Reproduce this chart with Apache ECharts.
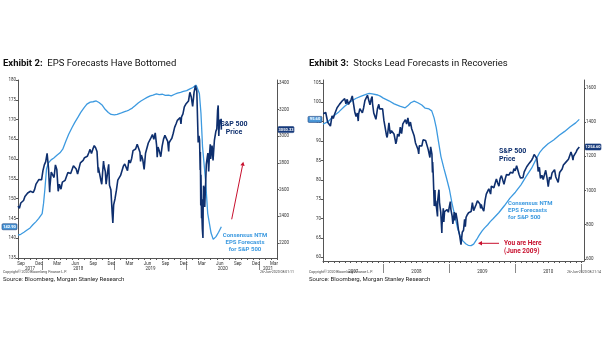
<!DOCTYPE html>
<html><head><meta charset="utf-8">
<script src="https://cdn.jsdelivr.net/npm/echarts@6/dist/echarts.min.js"></script>
<style>html,body{margin:0;padding:0;background:#fff}#c{width:605px;height:341px}</style>
</head><body><div id="c"></div>
<script>
// ---------- DATA ----------
const monthNames = ['Jan','Feb','Mar','Apr','May','Jun','Jul','Aug','Sep','Oct','Nov','Dec'];
const quarterMonths = ['Mar','Jun','Sep','Dec'];
const yearsA = ['2017','2018','2019','2020','2021'];
const yearsB = ['2007','2008','2009','2010'];
const epsTicksA = [135,140,145,150,155,160,165,170,175,180];
const spxTicksA = [2200,2400,2600,2800,3000,3200,3400];
const epsTicksB = [60,65,70,75,80,85,90,95,100,105];
const spxTicksB = [600,800,1000,1200,1400,1600];

// Exhibit 2: consensus NTM EPS (left axis)
const epsA = [['2017-09-01',140.8],['2017-09-15',141.0],['2017-10-01',141.5],['2017-10-15',142.0],['2017-11-01',142.6],['2017-11-15',143.4],['2017-12-01',144.2],['2017-12-15',145.0],['2018-01-01',146.2],['2018-01-08',148.8],['2018-01-15',152.5],['2018-01-23',157.5],['2018-02-01',159.0],['2018-02-15',159.8],['2018-03-01',160.3],['2018-03-15',160.9],['2018-04-01',161.6],['2018-04-15',162.5],['2018-05-01',164.6],['2018-05-15',166.3],['2018-06-01',168.0],['2018-06-15',169.3],['2018-07-01',170.6],['2018-07-15',171.8],['2018-08-01',173.0],['2018-08-15',173.9],['2018-09-01',174.4],['2018-09-15',174.5],['2018-10-01',174.7],['2018-10-15',174.3],['2018-11-01',173.6],['2018-11-15',172.6],['2018-12-01',171.8],['2018-12-15',171.3],['2019-01-01',171.2],['2019-01-15',171.3],['2019-02-01',171.6],['2019-02-15',171.9],['2019-03-01',172.1],['2019-03-15',172.4],['2019-04-01',172.9],['2019-04-15',173.5],['2019-05-01',174.2],['2019-05-15',174.7],['2019-06-01',175.2],['2019-06-15',175.6],['2019-07-01',176.0],['2019-07-15',176.2],['2019-08-01',176.5],['2019-08-15',176.3],['2019-09-01',176.4],['2019-09-15',176.1],['2019-10-01',176.2],['2019-10-15',176.0],['2019-11-01',176.4],['2019-11-15',176.7],['2019-12-01',176.9],['2019-12-15',177.1],['2020-01-01',177.3],['2020-01-15',177.7],['2020-02-01',178.1],['2020-02-18',178.7],['2020-03-05',176.6],['2020-03-13',171.6],['2020-03-21',163.1],['2020-04-05',154.7],['2020-04-16',146.3],['2020-05-03',141.3],['2020-05-14',139.7],['2020-05-28',140.4],['2020-06-10',141.5],['2020-06-24',142.9]];

// Exhibit 2: S&P 500 price (right axis)
const spxA = [['2017-09-01',2477],['2017-09-08',2461],['2017-09-15',2500],['2017-09-22',2502],['2017-09-29',2519],['2017-10-06',2549],['2017-10-13',2553],['2017-10-20',2575],['2017-10-27',2581],['2017-11-03',2588],['2017-11-10',2582],['2017-11-17',2579],['2017-11-24',2602],['2017-12-01',2642],['2017-12-08',2651],['2017-12-15',2675],['2017-12-22',2683],['2017-12-29',2674],
['2018-01-05',2743],['2018-01-12',2786],['2018-01-19',2810],['2018-01-26',2873],['2018-02-02',2762],['2018-02-08',2581],['2018-02-09',2620],['2018-02-16',2732],['2018-02-23',2747],['2018-03-02',2691],['2018-03-09',2786],['2018-03-16',2752],['2018-03-23',2588],['2018-03-29',2641],['2018-04-06',2604],['2018-04-13',2656],['2018-04-20',2670],['2018-04-27',2670],['2018-05-04',2663],['2018-05-11',2728],['2018-05-18',2713],['2018-05-25',2721],['2018-06-01',2735],['2018-06-08',2779],['2018-06-15',2780],['2018-06-22',2755],['2018-06-29',2718],['2018-07-06',2760],['2018-07-13',2801],['2018-07-20',2802],['2018-07-27',2819],['2018-08-03',2840],['2018-08-10',2833],['2018-08-17',2850],['2018-08-24',2875],['2018-08-31',2902],['2018-09-07',2872],['2018-09-14',2904],['2018-09-21',2930],['2018-09-28',2914],['2018-10-05',2886],['2018-10-11',2728],['2018-10-12',2767],['2018-10-19',2768],['2018-10-26',2659],['2018-10-29',2641],['2018-11-02',2723],['2018-11-07',2814],['2018-11-09',2781],['2018-11-16',2736],['2018-11-20',2641],['2018-11-23',2633],['2018-11-30',2760],['2018-12-03',2790],['2018-12-07',2633],['2018-12-14',2600],['2018-12-21',2417],['2018-12-24',2351],['2018-12-28',2486],
['2019-01-04',2532],['2019-01-11',2596],['2019-01-18',2671],['2019-01-25',2665],['2019-02-01',2707],['2019-02-08',2708],['2019-02-15',2776],['2019-02-22',2793],['2019-03-01',2804],['2019-03-08',2743],['2019-03-15',2822],['2019-03-22',2800],['2019-03-29',2834],['2019-04-05',2893],['2019-04-12',2907],['2019-04-18',2905],['2019-04-26',2940],['2019-05-03',2946],['2019-05-10',2881],['2019-05-13',2812],['2019-05-17',2860],['2019-05-24',2826],['2019-05-31',2752],['2019-06-07',2873],['2019-06-14',2887],['2019-06-21',2950],['2019-06-28',2942],['2019-07-05',2990],['2019-07-12',3014],['2019-07-19',2977],['2019-07-26',3026],['2019-08-02',2932],['2019-08-05',2844],['2019-08-09',2919],['2019-08-16',2889],['2019-08-23',2847],['2019-08-30',2926],['2019-09-06',2979],['2019-09-13',3007],['2019-09-20',2992],['2019-09-27',2962],['2019-10-02',2887],['2019-10-04',2952],['2019-10-11',2970],['2019-10-18',2986],['2019-10-25',3023],['2019-11-01',3067],['2019-11-08',3093],['2019-11-15',3120],['2019-11-22',3110],['2019-11-29',3141],['2019-12-03',3093],['2019-12-06',3146],['2019-12-13',3169],['2019-12-20',3221],['2019-12-27',3240],
['2020-01-03',3235],['2020-01-10',3265],['2020-01-17',3330],['2020-01-24',3295],['2020-01-31',3225],['2020-02-07',3328],['2020-02-14',3380],['2020-02-19',3386],['2020-02-21',3338],['2020-02-28',2954],['2020-03-03',3003],['2020-03-06',2972],['2020-03-09',2747],['2020-03-10',2882],['2020-03-12',2481],['2020-03-13',2711],['2020-03-16',2386],['2020-03-17',2529],['2020-03-18',2398],['2020-03-20',2305],['2020-03-23',2237],['2020-03-24',2447],['2020-03-26',2630],['2020-03-31',2585],['2020-04-01',2471],['2020-04-06',2664],['2020-04-09',2790],['2020-04-14',2846],['2020-04-17',2875],['2020-04-21',2737],['2020-04-24',2837],['2020-04-29',2940],['2020-05-01',2831],['2020-05-08',2930],['2020-05-13',2820],['2020-05-15',2864],['2020-05-20',2972],['2020-05-27',3036],['2020-06-01',3056],['2020-06-05',3194],['2020-06-08',3232],['2020-06-11',3002],['2020-06-12',3041],['2020-06-16',3125],['2020-06-19',3098],['2020-06-23',3131],['2020-06-24',3050.33]];

// Exhibit 3: consensus NTM EPS (left axis)
const epsB = [['2007-02-01',94.4],['2007-03-01',95.0],['2007-04-01',96.5],['2007-05-01',97.6],['2007-06-01',99.0],['2007-07-01',100.1],['2007-08-01',101.0],['2007-09-01',101.6],['2007-10-01',102.1],['2007-10-15',102.3],['2007-11-01',102.2],['2007-12-01',101.9],['2007-12-15',101.6],['2008-01-01',101.1],['2008-02-01',100.4],['2008-03-01',99.6],['2008-04-01',99.0],['2008-05-01',98.6],['2008-05-15',99.1],['2008-06-01',99.9],['2008-06-20',100.3],['2008-07-10',99.9],['2008-08-01',99.3],['2008-08-20',98.5],['2008-09-10',98.3],['2008-09-25',97.8],['2008-10-08',96.0],['2008-10-20',93.5],['2008-11-01',90.0],['2008-11-15',86.0],['2008-12-01',83.0],['2008-12-15',80.6],['2009-01-01',77.5],['2009-01-15',74.0],['2009-02-01',70.5],['2009-02-15',67.5],['2009-03-01',65.5],['2009-03-15',64.3],['2009-04-01',63.5],['2009-04-15',63.1],['2009-05-01',63.0],['2009-05-15',63.4],['2009-06-01',64.6],['2009-06-15',65.7],['2009-07-01',66.8],['2009-07-15',67.6],['2009-08-01',68.4],['2009-08-15',69.2],['2009-09-01',70.0],['2009-10-01',71.5],['2009-11-01',73.3],['2009-12-01',75.2],['2010-01-01',76.8],['2010-02-01',78.7],['2010-03-01',80.8],['2010-04-01',83.0],['2010-05-01',85.8],['2010-05-15',87.0],['2010-06-01',88.0],['2010-07-01',89.3],['2010-08-01',90.3],['2010-09-01',91.5],['2010-10-01',92.5],['2010-11-01',93.7],['2010-12-01',94.7],['2010-12-21',95.6]];

// Exhibit 3: S&P 500 price (right axis)
const spxB = [['2007-02-02',1449],['2007-02-09',1438],['2007-02-16',1456],['2007-02-23',1451],['2007-02-27',1399],['2007-03-02',1388],['2007-03-09',1402],['2007-03-14',1377],['2007-03-16',1386],['2007-03-23',1437],['2007-03-30',1421],['2007-04-05',1443],['2007-04-13',1453],['2007-04-20',1484],['2007-04-27',1495],['2007-05-04',1505],['2007-05-11',1505],['2007-05-18',1523],['2007-05-25',1515],['2007-06-01',1537],['2007-06-08',1507],['2007-06-15',1533],['2007-06-22',1503],['2007-06-29',1503],['2007-07-06',1530],['2007-07-13',1553],['2007-07-19',1554],['2007-07-27',1459],['2007-08-03',1433],['2007-08-10',1453],['2007-08-15',1406],['2007-08-17',1445],['2007-08-24',1479],['2007-08-31',1474],['2007-09-07',1454],['2007-09-14',1484],['2007-09-21',1525],['2007-09-28',1527],['2007-10-05',1557],['2007-10-09',1565],['2007-10-12',1562],['2007-10-19',1501],['2007-10-26',1536],['2007-10-31',1549],['2007-11-02',1510],['2007-11-09',1453],['2007-11-16',1458],['2007-11-21',1416],['2007-11-26',1407],['2007-11-30',1481],['2007-12-07',1504],['2007-12-11',1477],['2007-12-14',1468],['2007-12-21',1484],['2007-12-28',1478],
['2008-01-04',1411],['2008-01-11',1401],['2008-01-18',1325],['2008-01-22',1310],['2008-01-25',1331],['2008-02-01',1396],['2008-02-08',1332],['2008-02-15',1350],['2008-02-22',1353],['2008-02-29',1331],['2008-03-07',1294],['2008-03-10',1273],['2008-03-14',1288],['2008-03-17',1277],['2008-03-20',1330],['2008-03-28',1316],['2008-04-04',1370],['2008-04-11',1332],['2008-04-18',1390],['2008-04-25',1398],['2008-05-02',1414],['2008-05-09',1389],['2008-05-16',1425],['2008-05-19',1426],['2008-05-23',1375],['2008-05-30',1400],['2008-06-06',1361],['2008-06-13',1360],['2008-06-20',1318],['2008-06-27',1278],['2008-07-03',1262],['2008-07-11',1240],['2008-07-15',1214],['2008-07-18',1261],['2008-07-25',1257],['2008-08-01',1260],['2008-08-08',1296],['2008-08-11',1305],['2008-08-15',1298],['2008-08-22',1292],['2008-08-29',1283],['2008-09-05',1242],['2008-09-12',1252],['2008-09-15',1193],['2008-09-19',1255],['2008-09-26',1213],['2008-09-29',1106],['2008-09-30',1166],['2008-10-03',1099],['2008-10-09',910],['2008-10-10',899],['2008-10-13',1003],['2008-10-15',908],['2008-10-17',940],['2008-10-22',896],['2008-10-24',877],['2008-10-27',848],['2008-10-28',941],['2008-10-31',969],['2008-11-04',1005],['2008-11-07',930],['2008-11-14',873],['2008-11-20',752],['2008-11-21',800],['2008-11-28',896],['2008-12-01',816],['2008-12-05',876],['2008-12-12',879],['2008-12-19',888],['2008-12-26',873],['2008-12-31',903],
['2009-01-06',935],['2009-01-09',890],['2009-01-16',850],['2009-01-20',805],['2009-01-23',832],['2009-01-28',874],['2009-01-30',826],['2009-02-06',869],['2009-02-09',870],['2009-02-13',827],['2009-02-20',770],['2009-02-27',735],['2009-03-06',683],['2009-03-09',677],['2009-03-13',756],['2009-03-20',768],['2009-03-26',832],['2009-03-30',788],['2009-04-03',843],['2009-04-09',857],['2009-04-17',870],['2009-04-24',866],['2009-05-01',877],['2009-05-08',929],['2009-05-15',882],['2009-05-22',887],['2009-05-29',919],['2009-06-05',940],['2009-06-12',946],['2009-06-19',921],['2009-06-23',895],['2009-06-26',919],['2009-07-02',897],['2009-07-10',879],['2009-07-17',941],['2009-07-24',979],['2009-07-31',987],['2009-08-07',1010],['2009-08-14',1005],['2009-08-17',979],['2009-08-21',1026],['2009-08-28',1029],['2009-09-04',1016],['2009-09-11',1042],['2009-09-18',1068],['2009-09-22',1071],['2009-09-25',1044],['2009-10-02',1025],['2009-10-09',1071],['2009-10-16',1087],['2009-10-19',1097],['2009-10-23',1079],['2009-10-30',1036],['2009-11-06',1069],['2009-11-13',1093],['2009-11-20',1091],['2009-11-27',1091],['2009-12-04',1106],['2009-12-11',1106],['2009-12-18',1102],['2009-12-24',1127],['2009-12-31',1115],
['2010-01-08',1145],['2010-01-15',1136],['2010-01-19',1150],['2010-01-22',1092],['2010-01-29',1074],['2010-02-05',1066],['2010-02-12',1075],['2010-02-19',1109],['2010-02-26',1105],['2010-03-05',1139],['2010-03-12',1150],['2010-03-19',1160],['2010-03-26',1167],['2010-04-02',1179],['2010-04-09',1194],['2010-04-15',1211],['2010-04-23',1217],['2010-04-30',1187],['2010-05-06',1128],['2010-05-07',1111],['2010-05-14',1136],['2010-05-20',1071],['2010-05-25',1074],['2010-05-28',1089],['2010-06-04',1064],['2010-06-11',1092],['2010-06-18',1118],['2010-06-25',1076],['2010-07-02',1022],['2010-07-09',1078],['2010-07-16',1065],['2010-07-23',1102],['2010-07-30',1102],['2010-08-06',1122],['2010-08-09',1127],['2010-08-13',1079],['2010-08-20',1071],['2010-08-26',1047],['2010-09-03',1105],['2010-09-10',1110],['2010-09-17',1126],['2010-09-24',1149],['2010-10-01',1146],['2010-10-08',1166],['2010-10-15',1176],['2010-10-22',1183],['2010-10-29',1183],['2010-11-05',1225],['2010-11-12',1200],['2010-11-16',1178],['2010-11-19',1199],['2010-11-26',1189],['2010-12-03',1225],['2010-12-10',1240],['2010-12-17',1244],['2010-12-21',1254.6]];

// ---------- STYLE ----------
const F = 'Roboto, "Liberation Sans", Arial, sans-serif';
const NAVY = '#0e2f6e', LIGHT = '#3d9ae0', RED = '#c8102e', AX = '#555';

function halfMonths(y, m, n) {
  const pts = [];
  for (let i = 0; i < n; i++) { const mm = m + Math.floor(i / 2); pts.push({y: y + Math.floor(mm / 12), m: mm % 12, h: i % 2}); }
  return pts;
}
function yearCenters(pts, years) {
  const map = {};
  years.forEach(ys => {
    const yr = +ys; let s = pts.findIndex(p => p.y === yr); if (s < 0) return;
    let e = pts.findIndex(p => p.y === yr + 1 && p.m === 0 && p.h === 0); if (e < 0) e = pts.length - 1;
    map[Math.round((s + e) / 2)] = ys;
  });
  return map;
}
const ptsA = halfMonths(2017, 8, 87);
const ptsB = halfMonths(2007, 1, 96);
const yrA = yearCenters(ptsA, yearsA), yrB = yearCenters(ptsB, yearsB);
const catA = ptsA.map((p, i) => 'a' + i), catB = ptsB.map((p, i) => 'b' + i);
const monthsA = []; for (let i = 0; i < 43; i++) monthsA.push(monthNames[(8 + i) % 12] + '_' + i);

const lbl = {fontSize: 4.5, color: '#333', fontFamily: F};
function hmAxis(grid, cat, pts, yr) {
  return {type: 'category', gridIndex: grid, position: 'bottom', data: cat, boundaryGap: false,
    axisLine: {show: true, lineStyle: {color: AX, width: 1}},
    axisTick: {show: true, length: 2, interval: i => pts[i].h === 0, lineStyle: {color: AX}},
    axisLabel: Object.assign({show: true, margin: 8, interval: i => yr[i] !== undefined, formatter: (v, i) => yr[i] || ''}, lbl),
    splitLine: {show: false}};
}
function sepAxis(grid, cat, pts) {
  return {type: 'category', gridIndex: grid, position: 'bottom', data: cat, boundaryGap: false, offset: 3,
    axisLine: {show: false},
    axisTick: {show: true, length: 9, interval: i => pts[i].m === 0 && pts[i].h === 0, lineStyle: {color: '#888'}},
    axisLabel: {show: false}, splitLine: {show: false}};
}
function valAxis(grid, pos, min, max, opts, ticks, showEnds) {
  return Object.assign({type: 'value', gridIndex: grid, position: pos, min, max, scale: true,
    axisLine: {show: true, lineStyle: {color: AX, width: 1}},
    axisTick: {show: true, length: 2, lineStyle: {color: AX}},
    axisLabel: Object.assign({margin: 2, showMinLabel: showEnds, showMaxLabel: showEnds,
      formatter: v => ticks.indexOf(Math.round(v * 100) / 100) >= 0 ? String(v) : ''}, lbl),
    splitLine: {show: false}}, opts);
}

const chart = echarts.init(document.getElementById('c'), null, {renderer: 'canvas', width: 605, height: 341});
const t = s => { const [y, m, d] = s.split('-').map(Number); return new Date(y, m - 1, d).getTime(); };

chart.setOption({
  animation: false,
  backgroundColor: '#fff',
  grid: [
    {left: 18, right: 328, top: 80, height: 178, outerBoundsMode: 'none', containLabel: false},
    {left: 323, right: 21, top: 80, height: 181, outerBoundsMode: 'none', containLabel: false}
  ],
  xAxis: [
    {type: 'time', gridIndex: 0, min: t('2017-09-01'), max: t('2021-04-01'), show: false},
    hmAxis(0, catA, ptsA, yrA),
    {type: 'category', gridIndex: 0, position: 'bottom', data: monthsA, boundaryGap: true,
      axisLine: {show: false}, axisTick: {show: false},
      axisLabel: Object.assign({margin: 3, interval: (i, v) => quarterMonths.indexOf(v.split('_')[0]) >= 0, formatter: v => v.split('_')[0]}, lbl)},
    sepAxis(0, catA, ptsA),
    {type: 'time', gridIndex: 1, min: t('2007-02-01'), max: t('2011-01-16'), show: false},
    hmAxis(1, catB, ptsB, yrB),
    sepAxis(1, catB, ptsB)
  ],
  yAxis: [
    valAxis(0, 'left', 135, 180, {interval: 5}, epsTicksA, true),
    valAxis(0, 'right', 2087.5, 3422.5, {splitNumber: 6}, spxTicksA, false),
    valAxis(1, 'left', 59.04, 105.77, {splitNumber: 9}, epsTicksB, false),
    valAxis(1, 'right', 588, 1646, {splitNumber: 5}, spxTicksB, false)
  ],
  series: [
    {type: 'line', name: 'EPS A', xAxisIndex: 0, yAxisIndex: 0, data: epsA, showSymbol: false, lineStyle: {color: LIGHT, width: 1.3}, z: 2},
    {type: 'line', name: 'SPX A', xAxisIndex: 0, yAxisIndex: 1, data: spxA, showSymbol: false, lineStyle: {color: NAVY, width: 1.6}, z: 3},
    {type: 'line', name: 'EPS B', xAxisIndex: 4, yAxisIndex: 2, data: epsB, showSymbol: false, lineStyle: {color: LIGHT, width: 1.3}, z: 2},
    {type: 'line', name: 'SPX B', xAxisIndex: 4, yAxisIndex: 3, data: spxB, showSymbol: false, lineStyle: {color: NAVY, width: 1.6}, z: 3}
  ]
});

// ---------- ANNOTATIONS ----------
function arrow(x1, y1, x2, y2, color, w, head) {
  const a = Math.atan2(y2 - y1, x2 - x1), L = head, W = head * 0.55;
  const bx = x2 - L * Math.cos(a), by = y2 - L * Math.sin(a);
  return [
    {type: 'line', shape: {x1, y1, x2: bx, y2: by}, style: {stroke: color, lineWidth: w}},
    {type: 'polygon', shape: {points: [[x2, y2], [bx + W * Math.sin(a), by - W * Math.cos(a)], [bx - W * Math.sin(a), by + W * Math.cos(a)]]}, style: {fill: color}}
  ];
}
function box(x, y, w, text, fill, stroke, color) {
  return [
    {type: 'rect', shape: {x, y: y - 3, width: w, height: 6, r: 1}, style: {fill, stroke, lineWidth: 0.6}, z: 10},
    {type: 'text', x: x + w / 2, y, style: {text, fill: color, font: 'bold 4px ' + F, align: 'center', verticalAlign: 'middle'}, z: 11}
  ];
}
const last = a => a[a.length - 1];
const axL_A = chart.convertToPixel({xAxisIndex: 0}, t('2017-09-01'));
const axR_A = chart.convertToPixel({xAxisIndex: 0}, t('2021-04-01'));
const axL_B = chart.convertToPixel({xAxisIndex: 4}, t('2007-02-01'));
const axR_B = chart.convertToPixel({xAxisIndex: 4}, t('2011-01-16'));
const yEpsA = chart.convertToPixel({yAxisIndex: 0}, last(epsA)[1]);
const ySpxA = chart.convertToPixel({yAxisIndex: 1}, last(spxA)[1]);
const yEpsB = chart.convertToPixel({yAxisIndex: 2}, last(epsB)[1]);
const ySpxB = chart.convertToPixel({yAxisIndex: 3}, last(spxB)[1]);

const g = [];
const title = (x, n, rest) => ({type: 'text', x, y: 63.5, style: {text: '{b|Exhibit ' + n + ':}  ' + rest, font: '9.5px ' + F, fill: '#111', verticalAlign: 'middle',
  rich: {b: {fontWeight: 'bold', fontSize: 9.5, fontFamily: F, fill: '#111'}}}});
g.push(title(3, 2, 'EPS Forecasts Have Bottomed'));
g.push(title(309, 3, 'Stocks Lead Forecasts in Recoveries'));
const src = x => ({type: 'text', x, y: 279, style: {text: 'Source: Bloomberg, Morgan Stanley Research', font: '6px ' + F, fill: '#222', verticalAlign: 'middle'}});
g.push(src(3), src(309));
const tiny = (x, y, text, align) => ({type: 'text', x, y, style: {text, font: '3.5px ' + F, fill: '#444', verticalAlign: 'middle', align}});
g.push(tiny(3, 272, 'Copyright\u00a9 2020 Bloomberg Finance L.P.', 'left'));
g.push(tiny(294, 272, '26-Jun-2020 08:01:11', 'right'));
g.push(tiny(309, 272, 'Copyright\u00a9 2020 Bloomberg Finance L.P.', 'left'));
g.push(tiny(601, 272, '26-Jun-2020 08:21:14', 'right'));

const ann = (x, y, text, color, size, align) => ({type: 'text', x, y, style: {text, font: 'bold ' + size + 'px ' + F, fill: color, align, verticalAlign: 'top', lineHeight: size + 0.8}});
g.push(ann(234, 120.5, 'S&P 500\nPrice', NAVY, 7, 'center'));
g.push(ann(245, 232.5, 'Consensus NTM\nEPS Forecasts\nfor S&P 500', LIGHT, 6, 'center'));
g.push(...arrow(231.7, 219.3, 243.3, 161.7, RED, 1, 4));
g.push(ann(499, 147.5, 'S&P 500\nPrice', NAVY, 7, 'left'));
g.push(ann(508, 200, 'Consensus NTM\nEPS Forecasts\nfor S&P 500', LIGHT, 6, 'left'));
g.push(ann(504, 240, 'You are Here\n(June 2009)', RED, 6.5, 'left'));
g.push(...arrow(499, 243.3, 478, 243.3, RED, 1, 4));

g.push(...box(axL_A - 16, yEpsA, 15, last(epsA)[1].toFixed(2), '#4a97d8', '#1d3f7a', '#fff'));
g.push(...box(axR_A + 1, ySpxA, 16, last(spxA)[1].toFixed(2), '#173b7c', '#173b7c', '#fff'));
g.push(...box(axL_B - 15, yEpsB, 14, last(epsB)[1].toFixed(2), '#4a97d8', '#1d3f7a', '#fff'));
g.push(...box(axR_B + 1, ySpxB, 16, last(spxB)[1].toFixed(2), '#173b7c', '#173b7c', '#fff'));

chart.setOption({graphic: g});
</script></body></html>
